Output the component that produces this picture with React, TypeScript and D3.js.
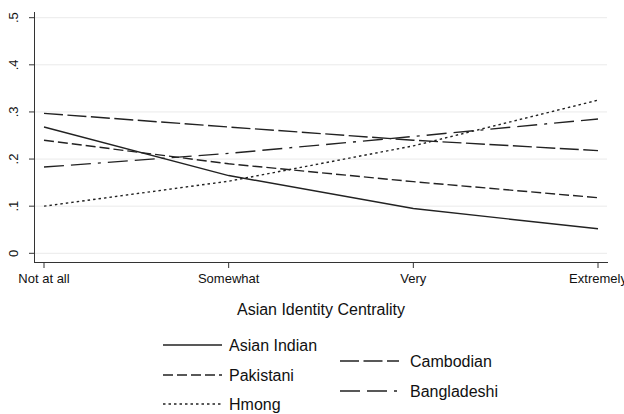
import React from "react";
import * as d3 from "d3";

const categories = ["Not at all", "Somewhat", "Very", "Extremely"];
const yTicks = [0, 0.1, 0.2, 0.3, 0.4, 0.5];
const yTickLabels = ["0", ".1", ".2", ".3", ".4", ".5"];
const asianIndian = [0.268, 0.165, 0.095, 0.052];
const pakistani = [0.24, 0.19, 0.152, 0.118];
const hmong = [0.1, 0.153, 0.228, 0.325];
const cambodian = [0.297, 0.268, 0.24, 0.218];
const bangladeshi = [0.183, 0.212, 0.248, 0.285];

const series = [
  { name: "Asian Indian", values: asianIndian, dash: "none", lx: 163, ly: 345 },
  { name: "Pakistani", values: pakistani, dash: "10,4", lx: 163, ly: 375 },
  { name: "Hmong", values: hmong, dash: "2.5,3", lx: 163, ly: 404 },
  { name: "Cambodian", values: cambodian, dash: "19,4.5", lx: 340, ly: 361 },
  { name: "Bangladeshi", values: bangladeshi, dash: "20,7,20,7,3,7", lx: 340, ly: 391 },
];

export default function App() {
  const W = 624, H = 414;
  const x = d3.scalePoint<string>().domain(categories).range([44, 598]);
  const y = d3.scaleLinear().domain([0, 0.5]).range([253.3, 17.7]);
  const line = d3
    .line<number>()
    .x((_, i) => x(categories[i]) as number)
    .y((d) => y(d));
  const font = "'Liberation Sans', Arial, sans-serif";
  return (
    <svg width={W} height={H} style={{ position: "absolute", left: 0, top: 0, background: "#fff" }} fontFamily={font}>
      <rect x={0} y={0} width={W} height={H} fill="#fff" />
      {yTicks.map((t) => (
        <line key={"g" + t} x1={35} x2={607} y1={y(t)} y2={y(t)} stroke="#eaeaea" strokeWidth={1} />
      ))}
      <line x1={34.5} x2={34.5} y1={12} y2={263} stroke="#333" strokeWidth={1} />
      <line x1={34.5} x2={608} y1={262.5} y2={262.5} stroke="#333" strokeWidth={1} />
      {yTicks.map((t, i) => (
        <g key={"t" + t}>
          <line x1={29} x2={34.5} y1={y(t)} y2={y(t)} stroke="#333" />
          <text
            transform={`translate(18,${y(t)}) rotate(-90)`}
            textAnchor="middle"
            fontSize={13}
            fill="#111"
          >
            {yTickLabels[i]}
          </text>
        </g>
      ))}
      {categories.map((c) => (
        <g key={c}>
          <line x1={x(c)} x2={x(c)} y1={262.5} y2={268} stroke="#333" />
          <text x={x(c)} y={283} textAnchor="middle" fontSize={13} fill="#111">
            {c}
          </text>
        </g>
      ))}
      <text x={321} y={315} textAnchor="middle" fontSize={16} fill="#111">
        Asian Identity Centrality
      </text>
      {series.map((s) => (
        <path
          key={s.name}
          d={line(s.values) || ""}
          fill="none"
          stroke="#222"
          strokeWidth={1.4}
          strokeDasharray={s.dash}
        />
      ))}
      {series.map((s) => (
        <g key={"l" + s.name}>
          <line x1={s.lx} x2={s.lx + 59} y1={s.ly} y2={s.ly} stroke="#222" strokeWidth={1.4} strokeDasharray={s.dash} />
          <text x={s.lx > 300 ? 410 : 229} y={s.ly + 5.5} fontSize={16} fill="#111">
            {s.name}
          </text>
        </g>
      ))}
    </svg>
  );
}
